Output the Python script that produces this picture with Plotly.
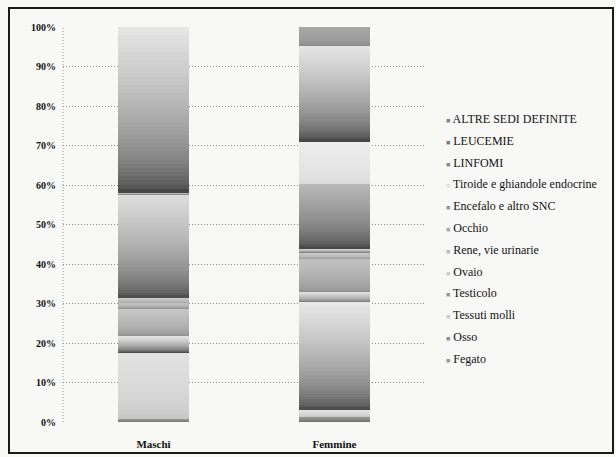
import plotly.graph_objects as go

# Share of cases by tumour site, males vs females (percent of total)
categories = ["Maschi", "Femmine"]
sites = [
    "Fegato", "Osso", "Tessuti molli", "Testicolo", "Ovaio",
    "Rene, vie urinarie", "Occhio", "Encefalo e altro SNC",
    "Tiroide e ghiandole endocrine", "LINFOMI", "LEUCEMIE",
    "ALTRE SEDI DEFINITE",
]
maschi = [1.0, 16.7, 4.3, 6.8, 0.0, 1.4, 1.2, 26.1, 0.5, 0.0, 42.0, 0.0]
femmine = [1.5, 1.5, 27.4, 0.0, 2.6, 8.5, 1.3, 1.2, 16.5, 10.5, 24.4, 4.6]
y_ticks = [0, 10, 20, 30, 40, 50, 60, 70, 80, 90, 100]
y_tick_text = [f"{v}%" for v in y_ticks]

# Gray gradient for each site: (bottom shade, top shade)
shades = [
    (90, 155), (196, 226), (58, 232), (142, 200), (90, 226), (138, 194),
    (154, 200), (60, 222), (58, 185), (218, 236), (51, 230), (138, 168),
]
legend_marks = [150, 140, 200, 150, 205, 185, 170, 150, 225, 135, 120, 130]

SLICES = 40
SERIF = "'Liberation Serif', 'DejaVu Serif', serif"


def gray(v):
    v = int(round(v))
    return f"rgb({v},{v},{v})"


fig = go.Figure()
for i, name in enumerate(sites):
    lo, hi = shades[i]
    for k in range(SLICES):
        t = ((k + 0.5) / SLICES) ** 0.5
        fig.add_trace(go.Bar(
            x=categories,
            y=[maschi[i] / SLICES, femmine[i] / SLICES],
            name=name,
            legendgroup=name,
            showlegend=False,
            marker=dict(color=gray(lo + (hi - lo) * t), line=dict(width=0)),
            hoverinfo="skip",
        ))

# Plot area geometry in pixels (used to place legend and frame in paper units)
L, R, T, B = 63, 191, 27, 35
W, H = 616 - L - R, 457 - T - B


def px_x(x):
    return (x - L) / W


def px_y(y):
    return (457 - B - y) / H


annotations = []
legend_top, legend_step = 119, 21.8
for j, name in enumerate(reversed(sites)):
    idx = len(sites) - 1 - j
    annotations.append(dict(
        x=px_x(444), y=px_y(legend_top + j * legend_step),
        xref="paper", yref="paper", xanchor="left", yanchor="middle",
        showarrow=False,
        text=(f"<span style='color:{gray(legend_marks[idx])};font-size:7px'>■</span> "
              f"{name}"),
        font=dict(family=SERIF, size=12, color="#111"),
    ))

shapes = [
    # outer frame
    dict(type="rect", xref="paper", yref="paper",
         x0=px_x(9), x1=px_x(613), y0=px_y(453), y1=px_y(8),
         line=dict(color="#1a1a1a", width=2), fillcolor="rgba(0,0,0,0)",
         layer="above"),
    # dotted left edge of the plot area
    dict(type="line", xref="paper", yref="paper", x0=0, x1=0, y0=0, y1=1,
         line=dict(color="#9a9a9a", width=1, dash="1px,2px"), layer="below"),
]

fig.update_layout(
    width=616, height=457,
    margin=dict(l=L, r=R, t=T, b=B, autoexpand=False),
    barmode="stack",
    bargap=0.61,
    paper_bgcolor="#f8f8f6",
    plot_bgcolor="#f8f8f6",
    showlegend=False,
    annotations=annotations,
    shapes=shapes,
    font=dict(family=SERIF, color="#111"),
)
fig.update_xaxes(
    showgrid=False, showline=False, zeroline=False, ticks="",
    tickfont=dict(family=SERIF, size=11, color="#111", weight="bold"),
    ticklabelstandoff=14, automargin=False,
)
fig.update_yaxes(
    range=[0, 100], tickvals=y_ticks, ticktext=y_tick_text,
    showgrid=True, gridcolor="#8c8c8c", griddash="1px,2px", gridwidth=1,
    zeroline=False, showline=False, ticks="",
    tickfont=dict(family=SERIF, size=10, color="#111", weight="bold"),
    ticklabelstandoff=6, automargin=False,
)

fig.write_html("out.html")
